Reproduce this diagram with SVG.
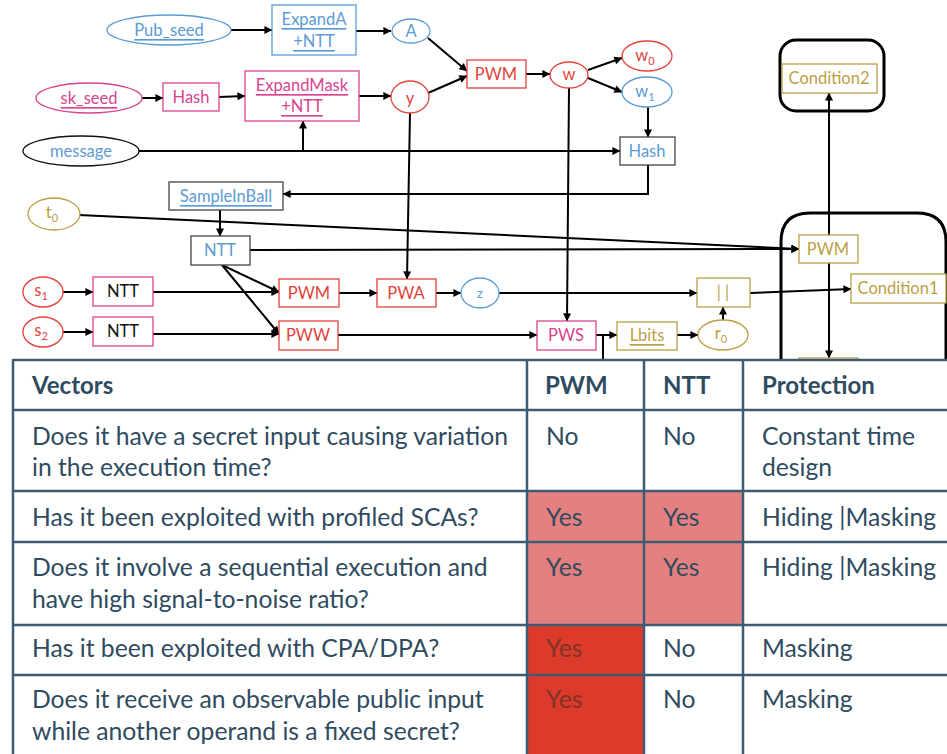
<svg xmlns="http://www.w3.org/2000/svg" width="947" height="754" viewBox="0 0 947 754">
  <defs>
    <marker id="arr" viewBox="0 0 10 10" refX="9.5" refY="5" markerWidth="9" markerHeight="8" markerUnits="userSpaceOnUse" orient="auto">
      <path d="M0,0 L10,5 L0,10 Z" fill="#000"/>
    </marker>
    <style>
      text { font-family: Lato, "Liberation Sans", Arial, sans-serif; }
      .lbl { font-size: 16.5px; text-anchor: middle; dominant-baseline: central; }
      .ul { text-decoration: underline; }
      .blue { fill: #5b9bd5; }
      .pink { fill: #d9448e; }
      .red { fill: #e2433a; }
      .olive { fill: #bc9f45; }
      .blk { fill: #111; }
      .nb { fill: #fff; stroke-width: 1.3; }
      .sb { stroke: #5b9bd5; }
      .sp { stroke: #d9448e; }
      .sr { stroke: #e2433a; }
      .so { stroke: #bc9f45; }
      .sg { stroke: #444; }
      .sk { stroke: #111; }
      .edge { fill: none; stroke: #000; stroke-width: 2; }
      .cont { fill: none; stroke: #000; stroke-width: 3; }
      .grid { stroke: #3e5b74; stroke-width: 2.5; fill: none; }
      .tt { font-size: 24.7px; fill: #2f4b5f; }
      .th { font-size: 24px; fill: #2f4b5f; font-weight: bold; }
      .sub { font-size: 11px; }
    </style>
  </defs>

  <rect width="947" height="754" fill="#fff"/>

  <!-- containers -->
  <g id="cond2-frame"><rect x="780" y="40" width="104" height="71" rx="16" class="cont"/></g>
  <g id="pwm-frame"><path class="cont" d="M781,362 V242 Q781,213 810,213 H917 Q946,213 946,242 V362"/></g>

  <!-- connectors -->
  <g id="connectors">
    <path class="edge" d="M231,30 H272" marker-end="url(#arr)"/>
    <path class="edge" d="M356,31 H391" marker-end="url(#arr)"/>
    <path class="edge" d="M142,98 H163" marker-end="url(#arr)"/>
    <path class="edge" d="M219,97 L245,96" marker-end="url(#arr)"/>
    <path class="edge" d="M359,96 H391" marker-end="url(#arr)"/>
    <path class="edge" d="M428,38 L467,71" marker-end="url(#arr)"/>
    <path class="edge" d="M428,93 L467,76" marker-end="url(#arr)"/>
    <path class="edge" d="M526,74 H550" marker-end="url(#arr)"/>
    <path class="edge" d="M588,70 L622,58" marker-end="url(#arr)"/>
    <path class="edge" d="M588,78 L622,92" marker-end="url(#arr)"/>
    <path class="edge" d="M648,107 V137" marker-end="url(#arr)"/>
    <path class="edge" d="M138,151 H620" marker-end="url(#arr)"/>
    <path class="edge" d="M303,151 V121" marker-end="url(#arr)"/>
    <path class="edge" d="M648,165 V194 H283" marker-end="url(#arr)"/>
    <path class="edge" d="M220,210 V236" marker-end="url(#arr)"/>
    <path class="edge" d="M79,215 L799,249" marker-end="url(#arr)"/>
    <path class="edge" d="M250,250 L799,249" marker-end="url(#arr)"/>
    <path class="edge" d="M222,265 L279,292" marker-end="url(#arr)"/>
    <path class="edge" d="M222,265 L279,334" marker-end="url(#arr)"/>
    <path class="edge" d="M63,292 H93" marker-end="url(#arr)"/>
    <path class="edge" d="M63,332 H93" marker-end="url(#arr)"/>
    <path class="edge" d="M153,292 H279" marker-end="url(#arr)"/>
    <path class="edge" d="M153,334 H279" marker-end="url(#arr)"/>
    <path class="edge" d="M339,293 H377" marker-end="url(#arr)"/>
    <path class="edge" d="M410,113 L407,279" marker-end="url(#arr)"/>
    <path class="edge" d="M436,293 H461" marker-end="url(#arr)"/>
    <path class="edge" d="M499,293 H697" marker-end="url(#arr)"/>
    <path class="edge" d="M569,88 L567,321" marker-end="url(#arr)"/>
    <path class="edge" d="M338,335 H537" marker-end="url(#arr)"/>
    <path class="edge" d="M596,335 H617" marker-end="url(#arr)"/>
    <path class="edge" d="M603,335 V362"/>
    <path class="edge" d="M677,335 H698" marker-end="url(#arr)"/>
    <path class="edge" d="M723,320 V307" marker-end="url(#arr)"/>
    <path class="edge" d="M750,293 L851,289" marker-end="url(#arr)"/>
    <path class="edge" d="M829,235 V93" marker-end="url(#arr)"/>
    <path class="edge" d="M829,263 V358" marker-end="url(#arr)"/>
  </g>

  <!-- nodes -->
  <g id="pub-seed"><ellipse cx="169" cy="30" rx="62" ry="15" class="nb sb"/><text x="169" y="30" class="lbl blue ul">Pub_seed</text></g>
  <g id="expand-a"><rect x="272" y="5" width="84" height="50" class="nb sb"/><text x="314" y="19" class="lbl blue ul">ExpandA</text><text x="314" y="41" class="lbl blue ul">+NTT</text></g>
  <g id="a"><ellipse cx="411" cy="31" rx="19" ry="12" class="nb sb"/><text x="411" y="31" class="lbl blue">A</text></g>

  <g id="sk-seed"><ellipse cx="89" cy="98" rx="53" ry="15" class="nb sp"/><text x="89" y="98" class="lbl pink ul">sk_seed</text></g>
  <g id="hash-sk"><rect x="163" y="83" width="56" height="28" class="nb sp"/><text x="191" y="97" class="lbl pink">Hash</text></g>
  <g id="expand-mask"><rect x="245" y="71" width="114" height="50" class="nb sp"/><text x="302" y="85" class="lbl pink ul">ExpandMask</text><text x="302" y="106" class="lbl pink ul">+NTT</text></g>
  <g id="y"><ellipse cx="410" cy="97" rx="19" ry="16" class="nb sr"/><text x="410" y="98" class="lbl red">y</text></g>

  <g id="pwm-top"><rect x="467" y="60" width="59" height="28" class="nb sr"/><text x="496" y="74" class="lbl red">PWM</text></g>
  <g id="w"><ellipse cx="569" cy="75" rx="19" ry="13" class="nb sr"/><text x="569" y="74" class="lbl red">w</text></g>
  <g id="w0"><ellipse cx="647" cy="56" rx="25" ry="15" class="nb sr"/><text x="645" y="55" class="lbl red">w<tspan class="sub" dy="5">0</tspan></text></g>
  <g id="w1"><ellipse cx="647" cy="92" rx="25" ry="15" class="nb sb"/><text x="645" y="91" class="lbl blue">w<tspan class="sub" dy="5">1</tspan></text></g>

  <g id="message"><ellipse cx="81" cy="151" rx="58" ry="15" class="nb sk"/><text x="81" y="151" class="lbl blue">message</text></g>
  <g id="hash-msg"><rect x="620" y="137" width="55" height="28" class="nb sg"/><text x="647" y="151" class="lbl blue">Hash</text></g>

  <g id="sample-in-ball"><rect x="169" y="182" width="114" height="28" class="nb sg"/><text x="226" y="196" class="lbl blue ul">SampleInBall</text></g>
  <g id="t0"><ellipse cx="54" cy="214" rx="26" ry="16" class="nb so"/><text x="52" y="212" class="lbl olive">t<tspan class="sub" dy="5">0</tspan></text></g>
  <g id="ntt-c"><rect x="191" y="236" width="59" height="29" class="nb sg"/><text x="220" y="250" class="lbl blue">NTT</text></g>

  <g id="s1"><ellipse cx="43" cy="292" rx="20" ry="15" class="nb sr"/><text x="41" y="290" class="lbl red">s<tspan class="sub" dy="5">1</tspan></text></g>
  <g id="s2"><ellipse cx="43" cy="332" rx="20" ry="15" class="nb sr"/><text x="41" y="330" class="lbl red">s<tspan class="sub" dy="5">2</tspan></text></g>
  <g id="ntt-s1"><rect x="93" y="277" width="60" height="29" class="nb sp"/><text x="123" y="291" class="lbl blk">NTT</text></g>
  <g id="ntt-s2"><rect x="93" y="317" width="60" height="29" class="nb sp"/><text x="123" y="331" class="lbl blk">NTT</text></g>

  <g id="pwm-s1"><rect x="279" y="279" width="60" height="28" class="nb sr"/><text x="309" y="293" class="lbl red">PWM</text></g>
  <g id="pww"><rect x="279" y="321" width="59" height="29" class="nb sr"/><text x="308" y="335" class="lbl red">PWW</text></g>
  <g id="pwa"><rect x="377" y="279" width="59" height="28" class="nb sr"/><text x="406" y="293" class="lbl red">PWA</text></g>
  <g id="z"><ellipse cx="480" cy="293" rx="19" ry="15" class="nb sb"/><text x="480" y="293" class="lbl blue" style="font-size:13px">z</text></g>

  <g id="pws"><rect x="537" y="321" width="59" height="29" class="nb sp"/><text x="566" y="335" class="lbl pink">PWS</text></g>
  <g id="lbits"><rect x="617" y="322" width="60" height="28" class="nb so"/><text x="647" y="335" class="lbl olive ul">Lbits</text></g>
  <g id="r0"><ellipse cx="723" cy="335" rx="25" ry="15" class="nb so"/><text x="721" y="333" class="lbl olive">r<tspan class="sub" dy="5">0</tspan></text></g>
  <g id="concat"><rect x="697" y="278" width="53" height="29" class="nb so"/><text x="723" y="292" class="lbl olive">| |</text></g>

  <g id="pwm-right"><rect x="799" y="235" width="59" height="28" class="nb so"/><text x="828" y="249" class="lbl olive">PWM</text></g>
  <g id="condition1"><rect x="851" y="274" width="95" height="29" class="nb so"/><text x="898" y="288" class="lbl olive">Condition1</text></g>
  <g id="condition2"><rect x="782" y="64" width="95" height="29" class="nb so"/><text x="829" y="78" class="lbl olive">Condition2</text></g>
  <g id="box-below"><rect x="799" y="358" width="59" height="28" class="nb so"/></g>

  <!-- table -->
  <g id="table">
    <rect x="13" y="360" width="934" height="394" fill="#fff"/>
    <rect x="528" y="491" width="216" height="134" fill="#e58080"/>
    <rect x="528" y="625" width="116" height="129" fill="#dc3a2a"/>
    <path class="grid" d="M13,360 H947 M13,410 H947 M13,491 H947 M13,542 H947 M13,625 H947 M13,675 H947 M13,359 V754 M527,359 V754 M644,359 V754 M743,359 V754"/>

    <text x="32" y="394" class="th">Vectors</text>
    <text x="545" y="394" class="th">PWM</text>
    <text x="663" y="394" class="th">NTT</text>
    <text x="762" y="394" class="th">Protection</text>

    <text x="32" y="445" class="tt">Does it have a secret input causing variation</text>
    <text x="32" y="476" class="tt">in the execution time?</text>
    <text x="546" y="445" class="tt">No</text>
    <text x="663" y="445" class="tt">No</text>
    <text x="762" y="445" class="tt">Constant time</text>
    <text x="762" y="476" class="tt">design</text>

    <text x="32" y="526" class="tt">Has it been exploited with profiled SCAs?</text>
    <text x="546" y="526" class="tt">Yes</text>
    <text x="663" y="526" class="tt">Yes</text>
    <text x="762" y="526" class="tt">Hiding |Masking</text>

    <text x="32" y="576" class="tt">Does it involve a sequential execution and</text>
    <text x="32" y="608" class="tt">have high signal-to-noise ratio?</text>
    <text x="546" y="576" class="tt">Yes</text>
    <text x="663" y="576" class="tt">Yes</text>
    <text x="762" y="576" class="tt">Hiding |Masking</text>

    <text x="32" y="657" class="tt">Has it been exploited with CPA/DPA?</text>
    <text x="546" y="657" class="tt" style="fill:#7d3426">Yes</text>
    <text x="663" y="657" class="tt">No</text>
    <text x="762" y="657" class="tt">Masking</text>

    <text x="32" y="708" class="tt">Does it receive an observable public input</text>
    <text x="32" y="740" class="tt">while another operand is a fixed secret?</text>
    <text x="546" y="708" class="tt" style="fill:#7d3426">Yes</text>
    <text x="663" y="708" class="tt">No</text>
    <text x="762" y="708" class="tt">Masking</text>
  </g>
</svg>
